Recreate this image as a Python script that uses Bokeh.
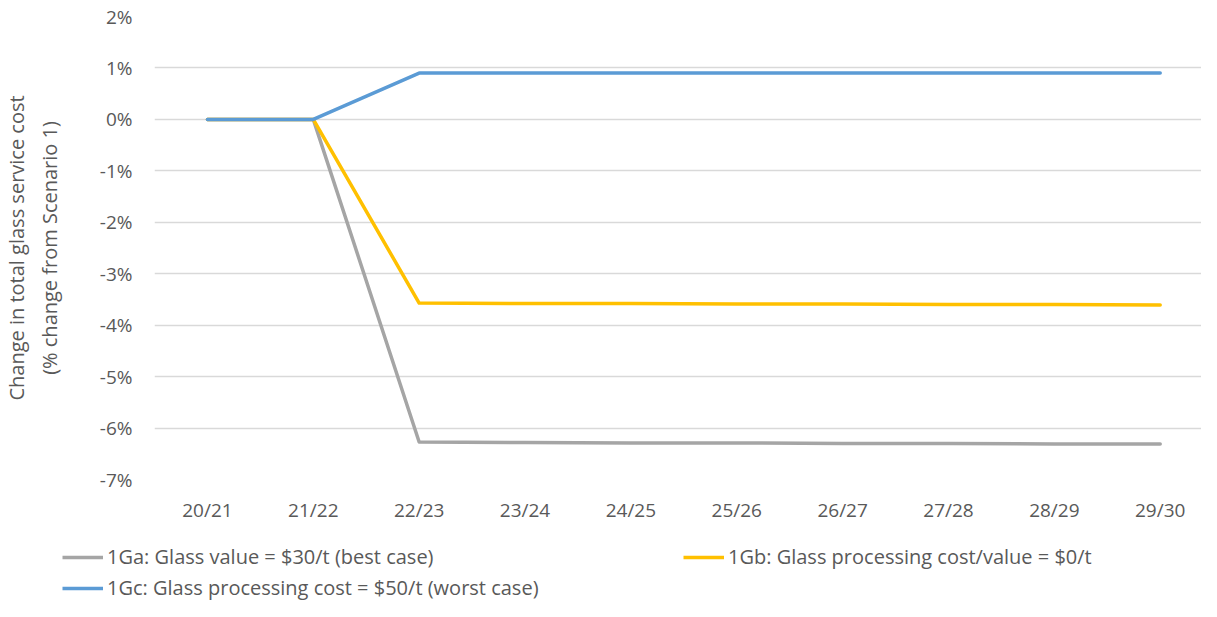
from bokeh.plotting import figure
from bokeh.models import Legend, LegendItem, FixedTicker, Range1d
from bokeh.layouts import column
from bokeh.embed import file_html
from bokeh.resources import INLINE

categories = ["20/21", "21/22", "22/23", "23/24", "24/25", "25/26", "26/27", "27/28", "28/29", "29/30"]
s_1ga = [0.0, 0.0, -6.27, -6.28, -6.29, -6.29, -6.30, -6.30, -6.31, -6.31]
s_1gb = [0.0, 0.0, -3.57, -3.58, -3.58, -3.59, -3.59, -3.60, -3.60, -3.61]
s_1gc = [0.0, 0.0, 0.90, 0.90, 0.90, 0.90, 0.90, 0.90, 0.90, 0.90]
names = ["1Ga: Glass value = $30/t (best case)",
         "1Gb: Glass processing cost/value = $0/t",
         "1Gc: Glass processing cost = $50/t (worst case)"]
colors = ["#a5a5a5", "#ffc000", "#5b9bd5"]
y_ticks = [2, 1, 0, -1, -2, -3, -4, -5, -6, -7]

FONT = "Open Sans"
TXT = "#595959"

xs = list(range(len(categories)))

p = figure(width=1201, height=525, output_backend="svg", toolbar_location=None,
           x_range=Range1d(-0.5, 9.39), y_range=Range1d(-7, 2),
           min_border_left=154, min_border_right=0, min_border_top=16, min_border_bottom=46)
p.outline_line_color = None
p.frame_align = False

for ys, c in zip([s_1ga, s_1gb, s_1gc], colors):
    p.line(xs, ys, line_color=c, line_width=3.5, line_cap="round", line_join="round")

p.xaxis.ticker = FixedTicker(ticks=xs)
p.xaxis.major_label_overrides = {i: c for i, c in enumerate(categories)}
p.yaxis.ticker = FixedTicker(ticks=y_ticks)
p.yaxis.major_label_overrides = {t: f"{t}%" for t in y_ticks}

for ax in (p.xaxis[0], p.yaxis[0]):
    ax.axis_line_color = None
    ax.major_tick_line_color = None
    ax.minor_tick_line_color = None
    ax.major_label_text_font = FONT
    ax.major_label_text_font_size = "19px"
    ax.major_label_text_color = TXT
p.xaxis.major_label_standoff = 11
p.yaxis.major_label_standoff = 16

p.yaxis.axis_label = "Change in total glass service cost\n(% change from Scenario 1)"
p.yaxis.axis_label_text_font = FONT
p.yaxis.axis_label_text_font_size = "20px"
p.yaxis.axis_label_text_font_style = "normal"
p.yaxis.axis_label_text_color = TXT
p.yaxis.axis_label_text_line_height = 1.2
p.yaxis.axis_label_standoff = 34

p.xgrid.grid_line_color = None
p.ygrid.grid_line_color = "#d9d9d9"
p.ygrid.grid_line_width = 1.3
p.ygrid.ticker = FixedTicker(ticks=y_ticks)

# legend strip below the chart
lf = figure(width=1201, height=76, output_backend="svg", toolbar_location=None,
            x_range=Range1d(0, 1), y_range=Range1d(0, 1), x_axis_type=None, y_axis_type=None,
            min_border_left=0, min_border_right=0, min_border_top=0, min_border_bottom=0)
lf.frame_align = False
lf.outline_line_color = None
lf.xgrid.grid_line_color = None
lf.ygrid.grid_line_color = None
lrs = [lf.line([5, 6], [5, 6], line_color=c, line_width=3.5) for c in colors]

common = dict(label_text_font=FONT, label_text_font_size="20px", label_text_color=TXT,
              glyph_width=41, glyph_height=22, label_standoff=4, label_height=22,
              padding=0, margin=0, border_line_color=None, background_fill_alpha=0)
legend1 = Legend(items=[LegendItem(label=names[0], renderers=[lrs[0]]),
                        LegendItem(label=names[1], renderers=[lrs[1]])],
                 orientation="horizontal", location=(62, 31), label_width=335, spacing=241, **common)
legend2 = Legend(items=[LegendItem(label=names[2], renderers=[lrs[2]])],
                 orientation="horizontal", location=(62, 0), spacing=0, **common)
lf.add_layout(legend1, "center")
lf.add_layout(legend2, "center")

layout = column(p, lf, spacing=0)
open("out.html", "w").write(file_html(layout, INLINE))
